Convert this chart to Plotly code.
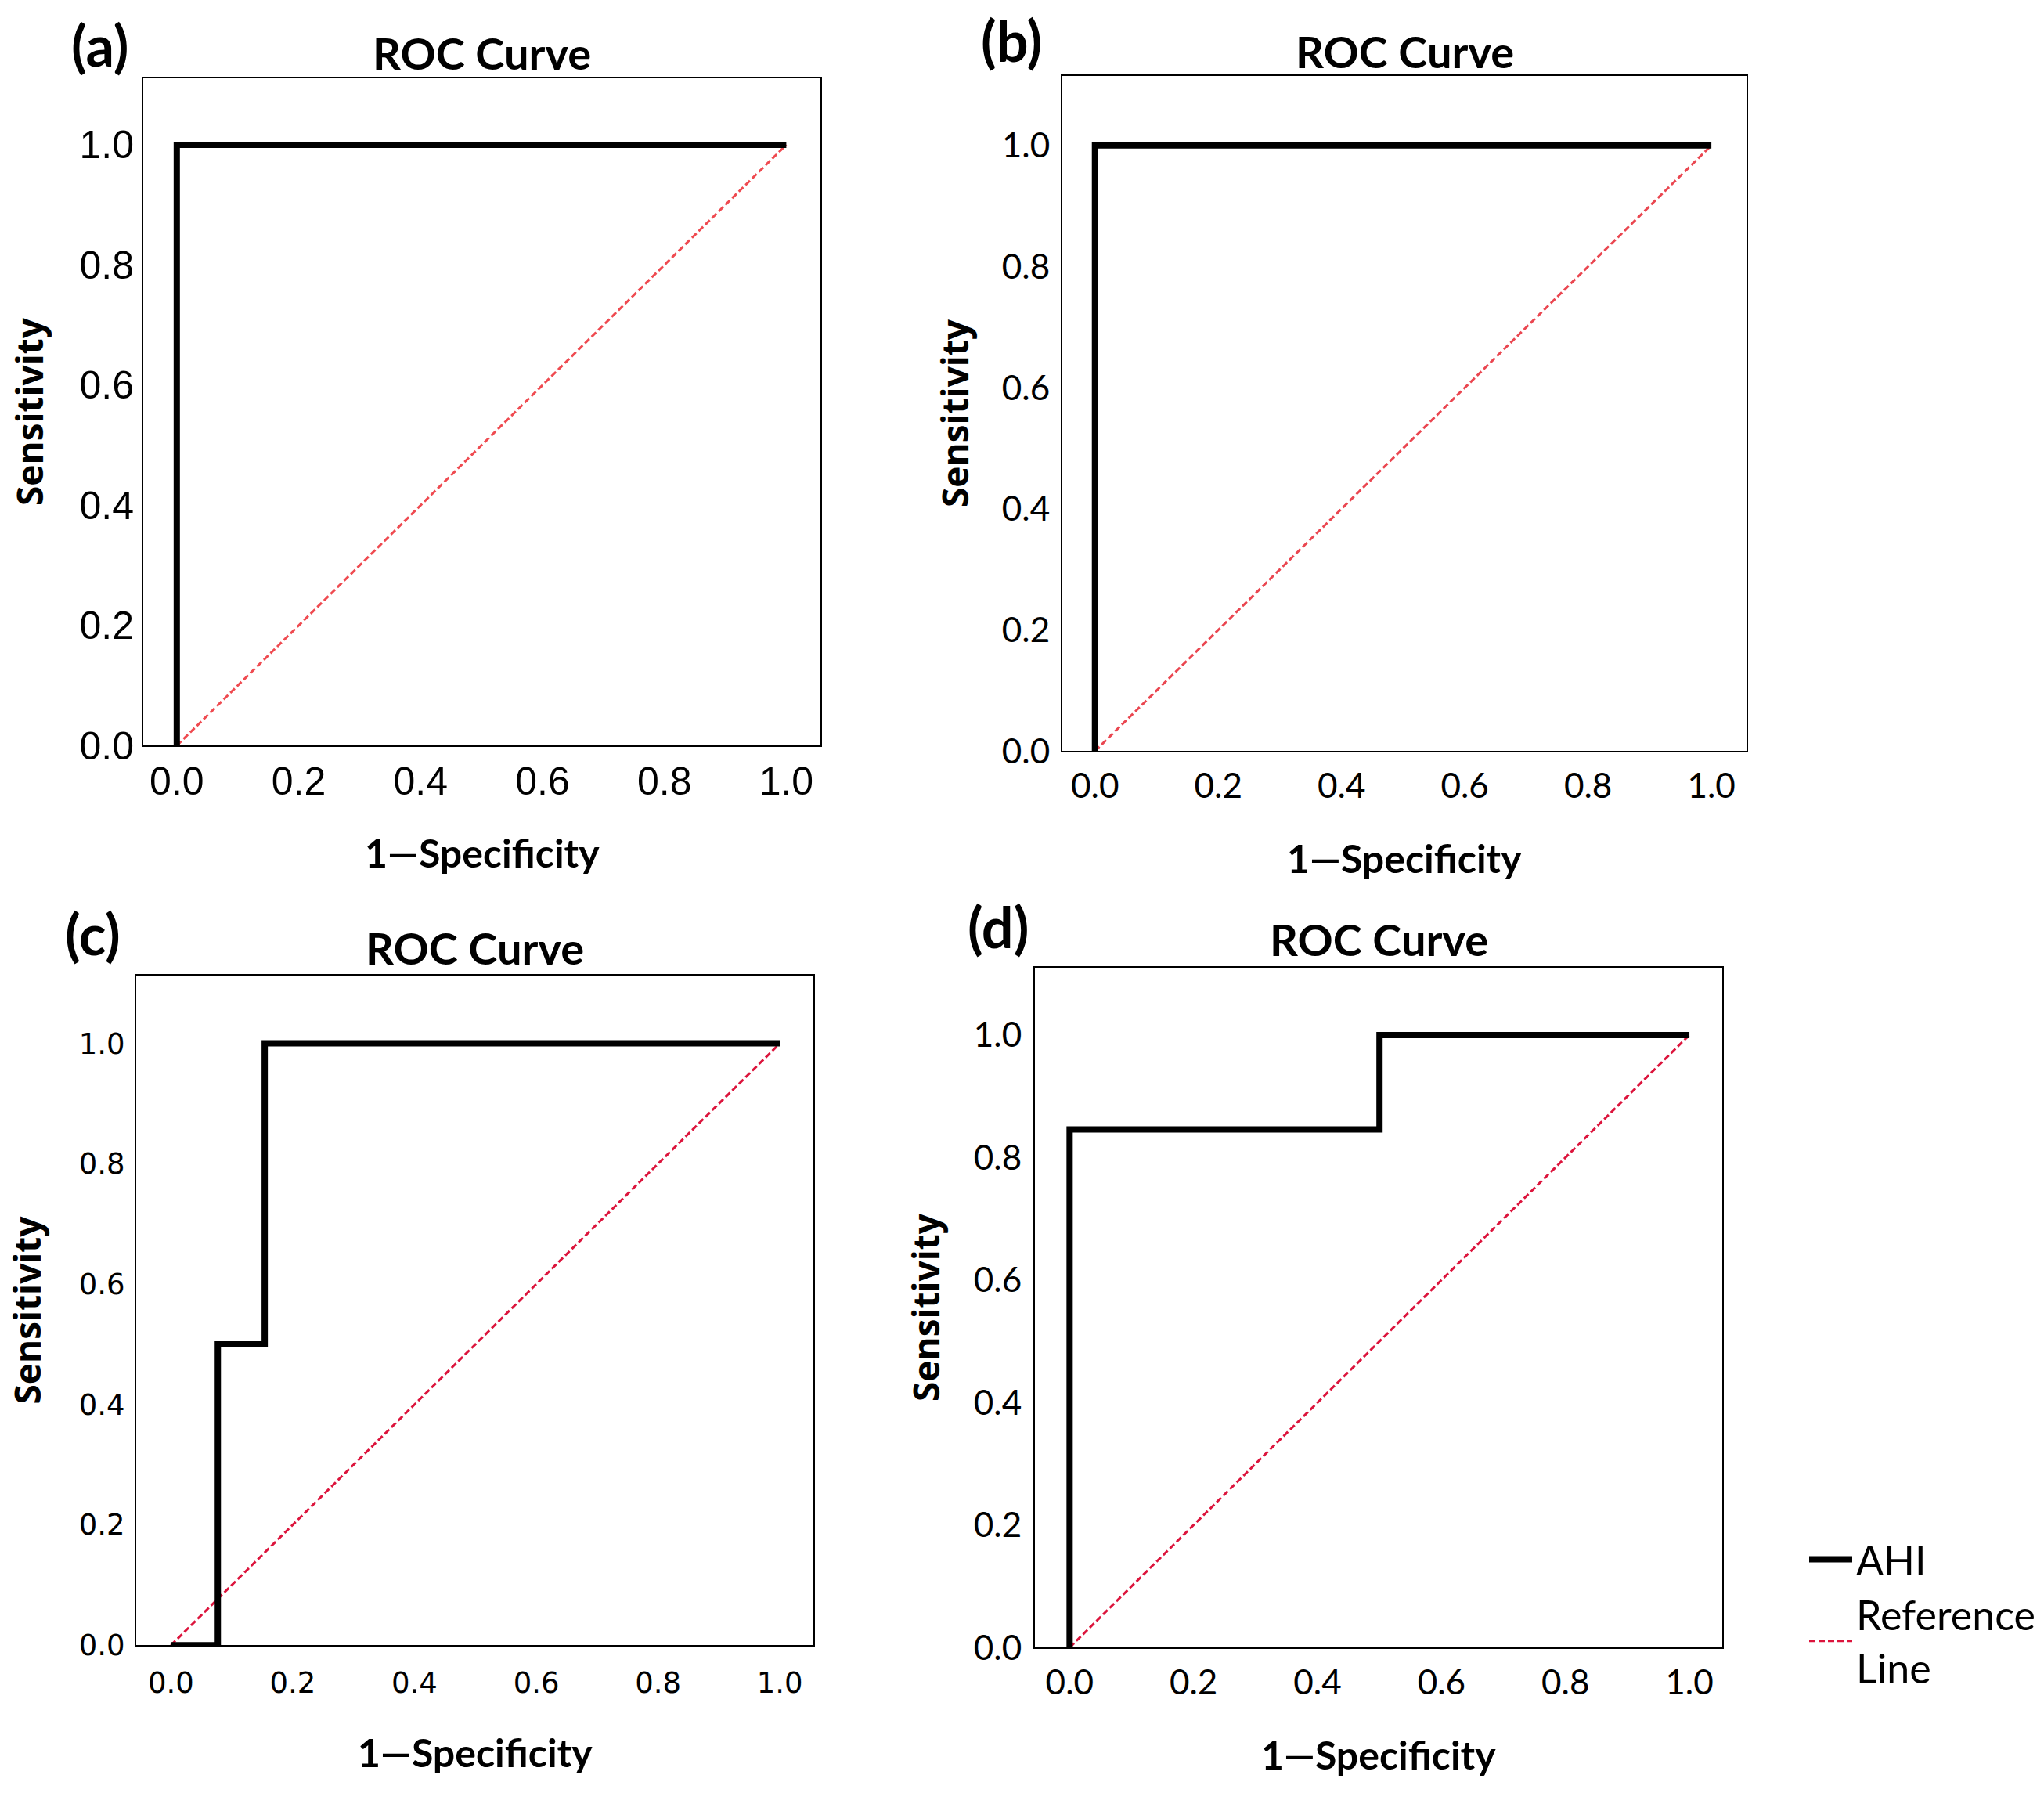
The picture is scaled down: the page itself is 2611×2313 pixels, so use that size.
import plotly.graph_objects as go

W, H = 2611, 2313

# ROC points
a_fpr = [0.0, 0.0, 1.0]
a_tpr = [0.0, 1.0, 1.0]
b_fpr = [0.0, 0.0, 1.0]
b_tpr = [0.0, 1.0, 1.0]
c_fpr = [0.0, 0.077, 0.077, 0.154, 0.154, 1.0]
c_tpr = [0.0, 0.0, 0.5, 0.5, 1.0, 1.0]
d_fpr = [0.0, 0.0, 0.5, 0.5, 1.0]
d_tpr = [0.0, 0.846, 0.846, 1.0, 1.0]
ref_x = [0.0, 1.0]
ref_y = [0.0, 1.0]

panel_labels = ["(a)", "(b)", "(c)", "(d)"]
tick_vals = [0.0, 0.2, 0.4, 0.6, 0.8, 1.0]
tick_text = ["0.0", "0.2", "0.4", "0.6", "0.8", "1.0"]

# pixel boxes: x0, x1, y0(top), y1(bottom)
boxes = [
    (183, 1048, 101, 964),
    (1357, 2231, 98, 971),
    (174, 1039, 1261, 2127),
    (1322, 2200, 1251, 2130),
]
xranges = [[-0.055, 1.056], [-0.053, 1.057], [-0.057, 1.055], [-0.056, 1.053]]
yranges = [[0, 1.111], [0, 1.115], [0, 1.113], [0, 1.11]]
tick_fonts = ["Liberation Sans", "Lato", "DejaVu Sans", "Lato"]
tick_sizes = [50, 44, 37, 44]
xtick_len = [1, 5, 14, 5]
ytick_len = [0, 5, 5, 6]
ylab_off = [146, 138, 140, 140]
title_off = [33, 32, 36, 37]
ref_colors = ["#ef4a50", "#ea4650", "#dc143c", "#dc143c"]

curves = [(a_fpr, a_tpr), (b_fpr, b_tpr), (c_fpr, c_tpr), (d_fpr, d_tpr)]

fig = go.Figure()
annotations = []

for i, (x0, x1, y0, y1) in enumerate(boxes):
    n = "" if i == 0 else str(i + 1)
    xa, ya = "x" + n, "y" + n
    fx, fy = curves[i]
    fig.add_trace(go.Scatter(
        x=ref_x, y=ref_y, xaxis=xa, yaxis=ya, mode="lines",
        line=dict(color=ref_colors[i], width=3, dash="8px,4px"),
        name="Reference<br>Line", showlegend=(i == 3), legendrank=2,
    ))
    fig.add_trace(go.Scatter(
        x=fx, y=fy, xaxis=xa, yaxis=ya, mode="lines",
        line=dict(color="black", width=8),
        name="AHI", showlegend=(i == 3), legendrank=1,
    ))
    common = dict(
        showline=True, mirror=True, linecolor="black", linewidth=2,
        showgrid=False, zeroline=False, ticks="outside", tickcolor="rgba(0,0,0,0)",
        tickvals=tick_vals, ticktext=tick_text,
        tickfont=dict(family=tick_fonts[i], size=tick_sizes[i], color="black"),
    )
    fig.layout["xaxis" + n] = dict(
        common, domain=[x0 / W, x1 / W], range=xranges[i], anchor=ya,
        ticklen=xtick_len[i],
    )
    fig.layout["yaxis" + n] = dict(
        common, domain=[1 - y1 / H, 1 - y0 / H], range=yranges[i], anchor=xa,
        ticklen=ytick_len[i],
    )

    cx = (x0 + x1) / 2 / W
    annotations.append(dict(
        text="<b>ROC Curve</b>", x=cx, y=1 - (y0 - title_off[i]) / H,
        xref="paper", yref="paper", xanchor="center", yanchor="middle", showarrow=False,
        font=dict(family="Lato", size=56, color="black"),
    ))
    annotations.append(dict(
        text="<b>1\u2014Specificity</b>", x=cx, y=1 - (y1 + 138) / H, xref="paper", yref="paper",
        xanchor="center", yanchor="middle", showarrow=False,
        font=dict(family="Lato", size=50, color="black"),
    ))
    annotations.append(dict(
        text="<b>Sensitivity</b>", x=(x0 - ylab_off[i]) / W, y=1 - (y0 + y1) / 2 / H,
        xref="paper", yref="paper", xanchor="center", yanchor="middle",
        textangle=-90, showarrow=False,
        font=dict(family="Open Sans", size=46, color="black"),
    ))

label_pos = [(127, 58), (1292, 52), (118, 1207), (1275, 1197)]
for lab, (px, py) in zip(panel_labels, label_pos):
    annotations.append(dict(
        text="<b>" + lab + "</b>", x=px / W, y=1 - py / H, xref="paper", yref="paper",
        xanchor="center", yanchor="middle", showarrow=False,
        font=dict(family="Lato", size=72, color="black"),
    ))

fig.update_layout(
    width=W, height=H,
    margin=dict(l=0, r=0, t=0, b=0),
    paper_bgcolor="white", plot_bgcolor="white",
    annotations=annotations,
    showlegend=True,
    legend=dict(
        x=2306 / W, y=1 - 1975 / H, xanchor="left", yanchor="top",
        font=dict(family="Lato", size=52, color="black"),
        bgcolor="rgba(0,0,0,0)", tracegroupgap=8, itemwidth=55,
    ),
)

# keep the page exactly the size of the figure
post = (
    "document.body.style.margin='0px';"
    "document.body.style.overflow='hidden';"
    "document.documentElement.style.overflow='hidden';"
)
fig.write_html("out.html", post_script=post, config={"displayModeBar": False})
